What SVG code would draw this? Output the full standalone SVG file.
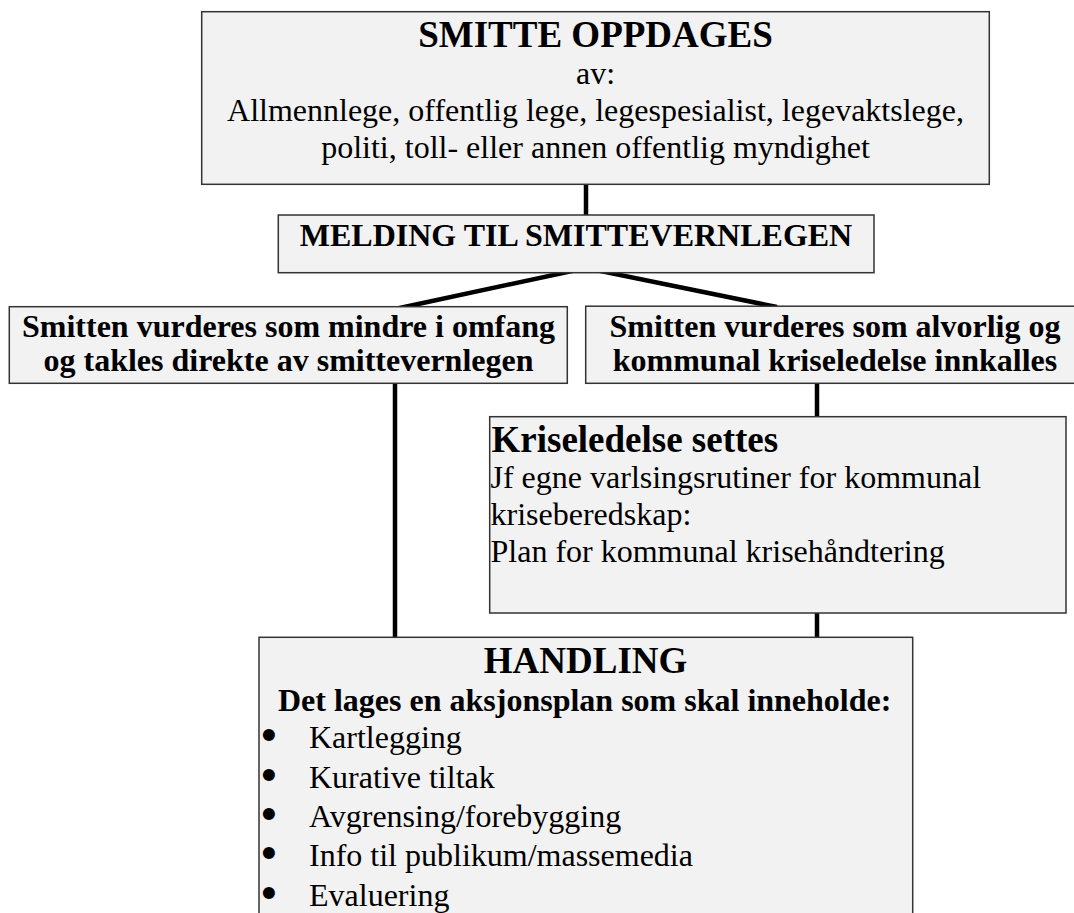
<svg xmlns="http://www.w3.org/2000/svg" width="1074" height="913" viewBox="0 0 1074 913">
<style>
.box{fill:#f2f2f2;stroke:#333;stroke-width:1.5}
.conn{stroke:#000;stroke-width:4.5;fill:none;stroke-linejoin:miter}
text{font-family:"Liberation Serif","Times New Roman",serif;fill:#000}
.b37{font-size:37px;font-weight:bold}
.b32{font-size:32px;font-weight:bold}
.r32{font-size:32px}
.c{text-anchor:middle}
.bul{font-family:"DejaVu Sans",sans-serif;font-weight:bold;font-size:34px}
</style>
<rect width="1074" height="913" fill="#fff"/>
<g id="connectors">
<line class="conn" x1="586" y1="184" x2="586" y2="215"/>
<polyline class="conn" points="395,309 586,268 777,307"/>
<line class="conn" x1="395" y1="383" x2="395" y2="637"/>
<line class="conn" x1="817" y1="383" x2="817" y2="417"/>
<line class="conn" x1="817" y1="613" x2="817" y2="637"/>
</g>
<g id="node-smitte-oppdages">
<rect class="box" x="201.7" y="11.7" width="787.6" height="172.6"/>
<text class="b37 c" x="595.5" y="46.7">SMITTE OPPDAGES</text>
<text class="r32 c" x="595.5" y="84">av:</text>
<text class="r32 c" x="595.5" y="120.7">Allmennlege, offentlig lege, legespesialist, legevaktslege,</text>
<text class="r32 c" x="595.5" y="158">politi, toll- eller annen offentlig myndighet</text>
</g>
<g id="node-melding">
<rect class="box" x="278.3" y="215" width="595.7" height="57.7"/>
<text class="b32 c" x="576" y="246">MELDING TIL SMITTEVERNLEGEN</text>
</g>
<g id="node-mindre">
<rect class="box" x="9.3" y="306.7" width="558" height="76.6"/>
<text class="b32 c" x="288.5" y="337.3">Smitten vurderes som mindre i omfang</text>
<text class="b32 c" x="288.5" y="371">og takles direkte av smittevernlegen</text>
</g>
<g id="node-alvorlig">
<rect class="box" x="585.7" y="306.2" width="500" height="77.1"/>
<text class="b32 c" x="835" y="337.3">Smitten vurderes som alvorlig og</text>
<text class="b32 c" x="835" y="371">kommunal kriseledelse innkalles</text>
</g>
<g id="node-kriseledelse">
<rect class="box" x="489.7" y="416.7" width="576.3" height="196.3"/>
<text class="b37" x="491.5" y="451.5">Kriseledelse settes</text>
<text class="r32" x="490.5" y="488.3">Jf egne varlsingsrutiner for kommunal</text>
<text class="r32" x="490.5" y="525">kriseberedskap:</text>
<text class="r32" x="490.5" y="561.7">Plan for kommunal krisehåndtering</text>
</g>
<g id="node-handling">
<rect class="box" x="259" y="637.3" width="653.7" height="300"/>
<text class="b37 c" x="585.6" y="673.3">HANDLING</text>
<text class="b32 c" x="584.7" y="710.7">Det lages en aksjonsplan som skal inneholde:</text>
<text class="r32" x="258" y="748.3"><tspan class="bul">•</tspan><tspan x="309">Kartlegging</tspan></text>
<text class="r32" x="258" y="787.6"><tspan class="bul">•</tspan><tspan x="309">Kurative tiltak</tspan></text>
<text class="r32" x="258" y="826.9"><tspan class="bul">•</tspan><tspan x="309">Avgrensing/forebygging</tspan></text>
<text class="r32" x="258" y="866.2"><tspan class="bul">•</tspan><tspan x="309">Info til publikum/massemedia</tspan></text>
<text class="r32" x="258" y="905.5"><tspan class="bul">•</tspan><tspan x="309">Evaluering</tspan></text>
</g>
</svg>
